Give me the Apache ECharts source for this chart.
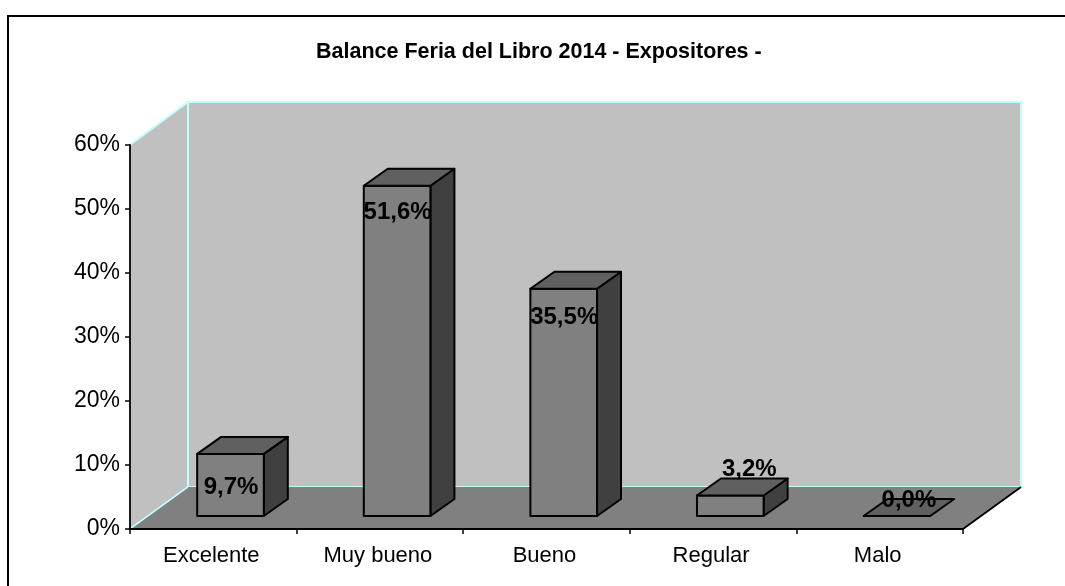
<!DOCTYPE html>
<html><head><meta charset="utf-8">
<style>html,body{margin:0;padding:0;background:#fff}#c{width:1065px;height:586px}</style>
<script src="https://cdn.jsdelivr.net/npm/echarts@6/dist/echarts.min.js"></script>
</head><body><div id="c"></div>
<script>
const chartTitle = 'Balance Feria del Libro 2014 - Expositores -';
const categories = ['Excelente', 'Muy bueno', 'Bueno', 'Regular', 'Malo'];
const values = [9.7, 51.6, 35.5, 3.2, 0.0];
const valueLabels = ['9,7%', '51,6%', '35,5%', '3,2%', '0,0%'];
const yTicks = [0, 10, 20, 30, 40, 50, 60];

// label placement relative to the bar's front-top-centre (style, not data)
const labelDx = [0.5, 0.5, 0.5, 19, 12];
const labelDy = [33, 27, 29, -26, -16];

const WALL_DX = 58, WALL_DY = 43;       // depth of the chart box
const BAR_SHIFT_X = 17.2, BAR_SHIFT_Y = 13; // bar offset into the floor
const BAR_DX = 24, BAR_DY = 17;         // depth of a bar
const BAR_W = 0.4;                      // share of a category band
const FONT = '"Liberation Sans", Arial, sans-serif';

function renderBox(params, api) {
  const c = params.coordSys;
  const l = c.x, r = c.x + c.width, t = c.y, b = c.y + c.height;
  const cyan = '#c0ffff';
  return { type: 'group', silent: true, children: [
    { type: 'polygon', shape: { points: [[l, t], [l + WALL_DX, t - WALL_DY], [l + WALL_DX, b - WALL_DY + 1], [l, b]] },
      style: { fill: '#c0c0c0', stroke: cyan, lineWidth: 2 } },
    { type: 'rect', shape: { x: l + WALL_DX, y: t - WALL_DY, width: c.width, height: c.height + 1 },
      style: { fill: '#c0c0c0', stroke: cyan, lineWidth: 2 } },
    { type: 'polygon', shape: { points: [[l, b], [l + WALL_DX, b - WALL_DY + 1], [r + WALL_DX, b - WALL_DY + 1], [r, b]] },
      style: { fill: '#808080' } },
    { type: 'line', shape: { x1: l, y1: b, x2: l + WALL_DX, y2: b - WALL_DY + 1 },
      style: { stroke: cyan, lineWidth: 1.5 } },
    { type: 'line', shape: { x1: r, y1: b, x2: r + WALL_DX, y2: b - WALL_DY + 1 },
      style: { stroke: '#000', lineWidth: 1.8 } }
  ]};
}

function renderBar(params, api) {
  const i = api.value(0), v = api.value(1);
  const top = api.coord([i, v]), base = api.coord([i, 0]);
  const w = api.size([1, 0])[0] * BAR_W;
  const x0 = base[0] + BAR_SHIFT_X - w / 2, x1 = x0 + w;
  const yb = base[1] - BAR_SHIFT_Y, yt = top[1] - BAR_SHIFT_Y;
  const stroke = { stroke: '#000', lineWidth: 2, lineJoin: 'round' };
  const kids = [];
  if (yb - yt > 0.5) {
    kids.push({ type: 'polygon', shape: { points: [[x1, yt], [x1 + BAR_DX, yt - BAR_DY], [x1 + BAR_DX, yb - BAR_DY], [x1, yb]] },
      style: Object.assign({ fill: '#404040' }, stroke) });
    kids.push({ type: 'rect', shape: { x: x0, y: yt, width: w, height: yb - yt },
      style: Object.assign({ fill: '#808080' }, stroke) });
  }
  kids.push({ type: 'polygon', shape: { points: [[x0, yt], [x0 + BAR_DX, yt - BAR_DY], [x1 + BAR_DX, yt - BAR_DY], [x1, yt]] },
    style: Object.assign({ fill: '#606060' }, stroke) });
  kids.push({ type: 'text', z2: 10, style: {
    text: valueLabels[i], x: (x0 + x1) / 2 + labelDx[i], y: yt + labelDy[i],
    align: 'center', verticalAlign: 'middle',
    font: 'bold 24px ' + FONT, fill: '#000' } });
  return { type: 'group', silent: true, children: kids };
}

const chart = echarts.init(document.getElementById('c'), null, { renderer: 'canvas' });
chart.setOption({
  animation: false,
  backgroundColor: '#fff',
  title: { text: chartTitle, left: 311, top: 36,
    textStyle: { fontFamily: FONT, fontSize: 21.5, fontWeight: 'bold', color: '#000' } },
  graphic: [{ type: 'rect', z: -1, shape: { x: 8, y: 16, width: 1200, height: 800 },
    style: { fill: 'none', stroke: '#000', lineWidth: 2 } }],
  grid: { left: 130, top: 145, width: 833, height: 384 },
  xAxis: { type: 'category', data: categories, z: 4,
    axisLine: { show: true, lineStyle: { color: '#000', width: 1.8 } },
    axisTick: { show: true, alignWithLabel: false, length: 5, lineStyle: { color: '#000', width: 1.5 } },
    axisLabel: { color: '#000', fontFamily: FONT, fontSize: 22, margin: 16, padding: [0, 4, 0, 0] },
    splitLine: { show: false } },
  yAxis: { type: 'value', min: yTicks[0], max: yTicks[yTicks.length - 1], interval: yTicks[1] - yTicks[0], z: 4,
    axisLine: { show: true, lineStyle: { color: '#000', width: 1.8 } },
    axisTick: { show: true, length: 5, lineStyle: { color: '#000', width: 1.5 } },
    axisLabel: { color: '#000', fontFamily: FONT, fontSize: 23, margin: 10, padding: [5, 0, 0, 0], formatter: '{value}%' },
    splitLine: { show: false } },
  series: [
    { type: 'custom', z: 1, clip: false, renderItem: renderBox, data: [[0, 0]], encode: { x: 0, y: 1 } },
    { type: 'custom', z: 6, clip: false, renderItem: renderBar,
      data: values.map((v, i) => [i, v]), encode: { x: 0, y: 1 } }
  ]
});
</script></body></html>
